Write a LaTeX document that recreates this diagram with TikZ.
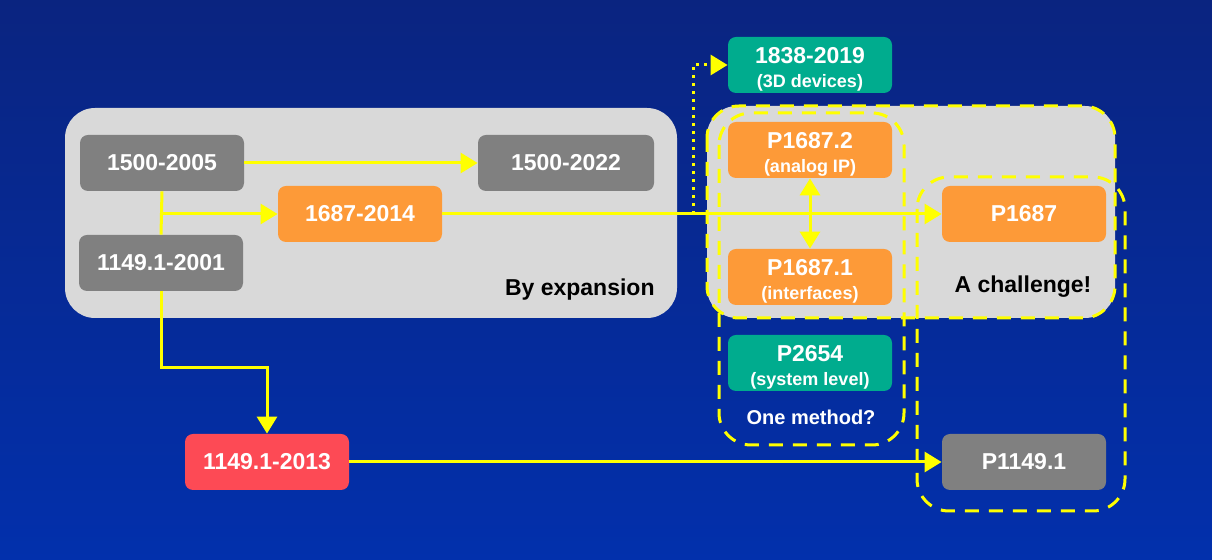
\documentclass[tikz,border=0pt]{standalone}
\usepackage{fontspec}
\setmainfont{Liberation Sans}
\definecolor{bgtop}{RGB}{10, 36, 128}
\definecolor{bgbot}{RGB}{2, 48, 172}
\definecolor{panelgray}{RGB}{217, 217, 217}
\definecolor{stdgray}{RGB}{128, 128, 128}
\definecolor{stdorange}{RGB}{253, 154, 56}
\definecolor{stdteal}{RGB}{0, 172, 142}
\definecolor{stdred}{RGB}{253, 74, 85}
\definecolor{linkyellow}{RGB}{255, 255, 0}
\usetikzlibrary{arrows.meta, positioning, calc}
\tikzset{
  stdbox/.style={rounded corners=4pt, minimum width=82pt, minimum height=28pt,
    text=white, font=\fontsize{11.5}{12}\selectfont\bfseries, align=center, inner sep=0pt},
  link/.style={draw=linkyellow, line width=1.5pt},
  tip/.style={-{Triangle[length=8.5pt, width=10pt]}},
  arrowlink/.style={link, tip},
  dashbox/.style={draw=linkyellow, line width=1.5pt, dash pattern=on 7pt off 5pt, rounded corners=16pt}
}
\newcommand{\twoline}[2]{\raisebox{-2.2pt}[\height][\depth]{\shortstack{#1\\[2pt]{\fontsize{9}{10}\selectfont #2}}}}
\begin{document}
\begin{tikzpicture}[x=0.5pt, y=-0.5pt]
  \useasboundingbox (0, 0) rectangle (1212, 560);
  \shade[top color=bgtop, bottom color=bgbot] (0, 0) rectangle (1212, 560);

  % grey panels
  \fill[panelgray, rounded corners=15pt] (65, 108) rectangle (677, 318);
  \fill[panelgray, rounded corners=15pt] (707, 106) rectangle (1115, 318);

  % dashed groupings
  \draw[dashbox] (707, 106) rectangle (1115, 318);
  \draw[dashbox] (719, 113) rectangle (904, 445);
  \draw[dashbox] (917, 177) rectangle (1125, 511);

  % standards
  \node[stdbox, fill=stdgray] (n15002005) at (162, 163) {1500-2005};
  \node[stdbox, fill=stdgray, minimum width=88pt] (n15002022) at (566, 163) {1500-2022};
  \node[stdbox, fill=stdorange] (n16872014) at (360, 214) {1687-2014};
  \node[stdbox, fill=stdgray] (n11492001) at (161, 263) {1149.1-2001};
  \node[stdbox, fill=stdred] (n11492013) at (267, 462) {1149.1-2013};

  \node[stdbox, fill=stdteal] (n18382019) at (810, 65) {\twoline{1838-2019}{(3D devices)}};
  \node[stdbox, fill=stdorange] (p16872) at (810, 150) {\twoline{P1687.2}{(analog IP)}};
  \node[stdbox, fill=stdorange] (p16871) at (810, 277) {\twoline{P1687.1}{(interfaces)}};
  \node[stdbox, fill=stdteal] (p2654) at (810, 363) {\twoline{P2654}{(system level)}};
  \node[stdbox, fill=stdorange] (p1687) at (1024, 214) {P1687};
  \node[stdbox, fill=stdgray] (p11491) at (1024, 462) {P1149.1};

  % labels
  \node[anchor=east, inner sep=0pt, font=\fontsize{11.5}{12}\selectfont\bfseries] (expansion) at (655, 290) {By expansion};
  \node[font=\fontsize{11.5}{12}\selectfont\bfseries] (challenge) at (1023, 287) {A challenge!};
  \node[text=white, font=\fontsize{10}{12}\selectfont\bfseries] (method) at (811, 417) {One method?};

  % connectors
  \coordinate (split) at (161, 214);
  \coordinate (elbow) at (161, 368);
  \coordinate (tap) at (693, 214);
  \draw[arrowlink] (n15002005.east) -- (n15002022.west);
  \draw[link] (n15002005.south) -- (n11492001.north);
  \draw[arrowlink] (split) -- (n16872014.west);
  \draw[arrowlink] (n11492001.south) -- (elbow) -| (n11492013.north);
  \draw[arrowlink] (n16872014.east) -- (p1687.west);
  \draw[arrowlink, dash pattern=on 1.5pt off 2.5pt] (tap) |- (n18382019.west);
  \draw[link, {Triangle[length=8.5pt, width=10pt]}-{Triangle[length=8.5pt, width=10pt]}] (p16872.south) -- (p16871.north);
  \draw[arrowlink] (n11492013.east) -- (p11491.west);
\end{tikzpicture}
\end{document}
